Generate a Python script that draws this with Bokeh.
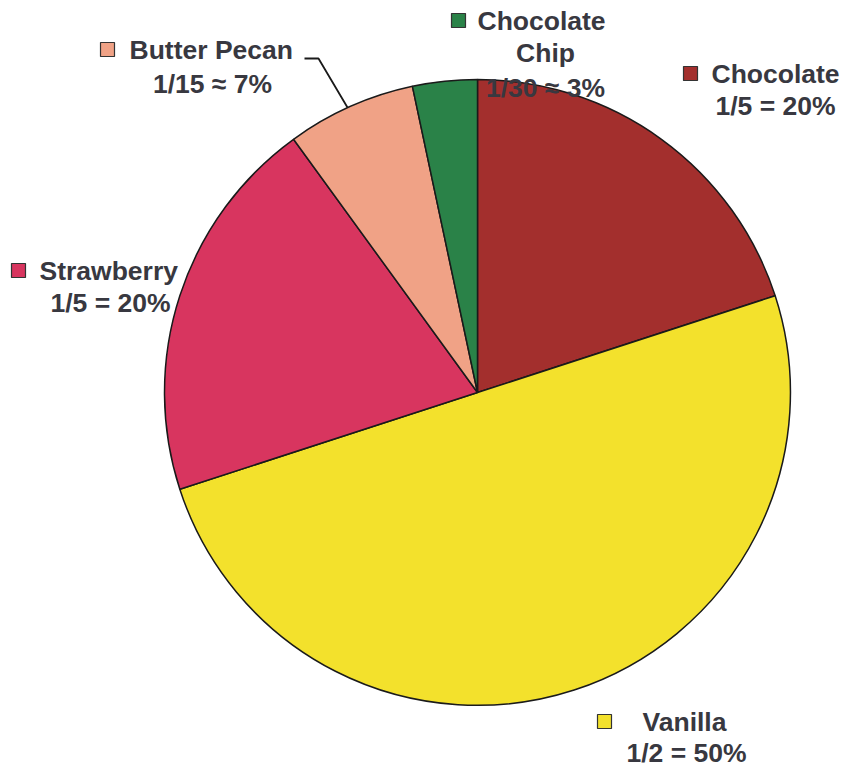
import math
from bokeh.plotting import figure
from bokeh.models import Range1d, ColumnDataSource
from bokeh.core.properties import value
from bokeh.embed import file_html
from bokeh.resources import INLINE

# Data
flavors = ["Chocolate", "Vanilla", "Strawberry", "Butter Pecan", "Chocolate Chip"]
fractions = [1/5, 1/2, 1/5, 1/15, 1/30]
fraction_labels = ["1/5 = 20%", "1/2 = 50%", "1/5 = 20%", "1/15 \u2248 7%", "1/30 \u2248 3%"]
colors = ["#A32F2D", "#F3E12C", "#D8355F", "#F0A286", "#2A8248"]

W, H = 849, 767
p = figure(width=W, height=H, output_backend="svg", toolbar_location=None,
           x_range=Range1d(0, W), y_range=Range1d(0, H), min_border=0)
p.axis.visible = False
p.grid.visible = False
p.outline_line_color = None
p.background_fill_color = "white"
p.border_fill_color = "white"

def Y(ypx):
    return H - ypx

cx, cy, r = 477, Y(392), 313

# wedges: start at top, go clockwise
starts, ends = [], []
acc = 0.0
for f in fractions:
    a0 = math.pi / 2 - 2 * math.pi * acc
    acc += f
    a1 = math.pi / 2 - 2 * math.pi * acc
    starts.append(a1)
    ends.append(a0)

src = ColumnDataSource(dict(start=starts, end=ends, color=colors, name=flavors))
p.wedge(x=cx, y=cy, radius=r, start_angle="start", end_angle="end",
        direction="anticlock", fill_color="color", line_color="#1a1a1a",
        line_width=1.5, source=src)

# Leader line for Butter Pecan
p.line(x=[304, 318, 347], y=[Y(58), Y(58), Y(107)], line_color="#1a1a1a", line_width=1.8)

font = value("Liberation Sans")
tcol = "#383840"
fs = "26.5px"

layout = {
    "Chocolate": dict(sq=(690, 73), lines=[("Chocolate", 711, 73, "left")], frac=(775, 105)),
    "Vanilla": dict(sq=(604, 721), lines=[("Vanilla", 642, 721, "left")], frac=(686, 752)),
    "Strawberry": dict(sq=(18, 270), lines=[("Strawberry", 39, 270, "left")], frac=(110, 302)),
    "Butter Pecan": dict(sq=(107, 49), lines=[("Butter Pecan", 129, 49, "left")], frac=(212, 83)),
    "Chocolate Chip": dict(sq=(458, 20), lines=[("Chocolate", 477, 20, "left"), ("Chip", 545, 52, "center")], frac=(545, 87)),
}

for name, col, flab in zip(flavors, colors, fraction_labels):
    L = layout[name]
    sx, sy = L["sq"]
    p.rect(x=sx, y=Y(sy), width=14, height=14, fill_color=col, line_color="#333333", line_width=1.2)
    for txt, tx, ty, al in L["lines"]:
        p.text(x=[tx], y=[Y(ty)], text=[txt], text_font=font, text_font_size=fs,
               text_font_style="bold", text_color=tcol, text_align=al, text_baseline="middle")
    fx, fy = L["frac"]
    p.text(x=[fx], y=[Y(fy)], text=[flab], text_font=font, text_font_size=fs,
           text_font_style="bold", text_color=tcol, text_align="center", text_baseline="middle")

open("out.html", "w").write(file_html(p, INLINE))
